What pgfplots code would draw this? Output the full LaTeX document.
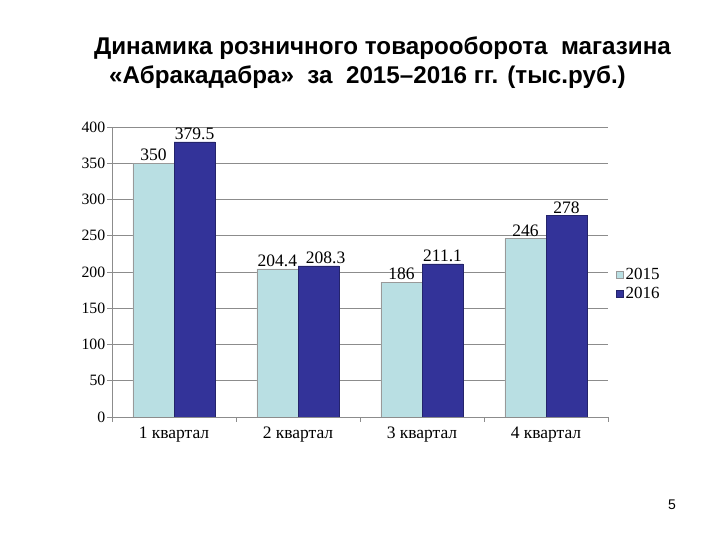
\documentclass[border=0pt]{standalone}
\usepackage{pgfplots}
\pgfplotsset{compat=1.18}
\usepackage{fontspec}
\setmainfont{Liberation Serif}
\newfontfamily\arial{Liberation Sans}
\definecolor{c15}{HTML}{B9DFE3}
\definecolor{c16}{HTML}{333399}
\definecolor{gridc}{HTML}{8C8C8C}
\begin{document}
\begin{tikzpicture}
\path[use as bounding box] (0pt,0pt) rectangle (720pt,540pt);
\node[font=\arial\bfseries\fontsize{24.2}{28}\selectfont, anchor=base] at (382.5pt,485pt) {Динамика розничного товарооборота\ \ магазина};
\node[font=\arial\bfseries\fontsize{24.2}{28}\selectfont, anchor=base] at (367.5pt,456pt) {«Абракадабра»\ \ за\ \ 2015–2016 гг. (тыс.руб.)};
\node[font=\arial\fontsize{14}{16}\selectfont, anchor=base] at (672pt,30pt) {5};
\begin{axis}[
  at={(112pt,123pt)}, anchor=south west,
  scale only axis, width=496pt, height=290pt,
  ybar=0pt, bar width=0.332,
  xmin=-0.5, xmax=3.5, ymin=0, ymax=400,
  xtick={0,1,2,3},
  xticklabels={1 квартал,2 квартал,3 квартал,4 квартал},
  minor xtick={-0.5,0.5,1.5,2.5,3.5},
  ytick={0,50,...,400},
  ymajorgrids, grid style={gridc, line width=0.9pt},
  axis x line*=bottom, axis y line*=left,
  axis line style={gridc, line width=0.9pt},
  major x tick style={draw=none},
  minor x tick style={gridc, line width=0.9pt},
  y tick style={gridc, line width=0.9pt},
  tick align=outside, major tick length=5pt, minor tick length=5pt,
  xticklabel style={font=\fontsize{17.5}{20}\selectfont, yshift=-1pt},
  yticklabel style={font=\fontsize{15.8}{18}\selectfont, inner sep=1.5pt},
  /pgf/number format/assume math mode=true,
  nodes near coords,
  every node near coord/.append style={font=\fontsize{17.5}{20}\selectfont, /pgf/number format/assume math mode=true, /pgf/number format/fixed, yshift=-1.5pt},
  legend style={draw=none, fill=none, at={(1.016,0.459)}, anchor=west, font=\fontsize{17}{19}\selectfont, row sep=2pt, inner sep=0pt},
  legend cell align=left,
  legend image code/.code={\fill[#1] (0pt,-4pt) rectangle (7pt,3pt);},
]
\addplot[fill=c15, draw=gray!80, line width=0.6pt] coordinates {(0,350) (1,204.4) (2,186) (3,246)};
\addplot[fill=c16, draw=c16!70!black, line width=0.6pt,
  coordinate style/.condition={x==1}{xshift=7pt}] coordinates {(0,379.5) (1,208.3) (2,211.1) (3,278)};
\legend{2015,2016}
\end{axis}
\end{tikzpicture}
\end{document}
